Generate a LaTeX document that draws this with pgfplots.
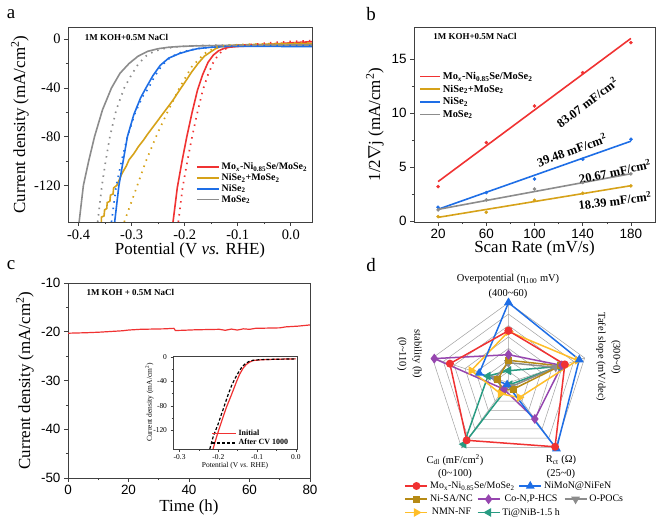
\documentclass[border=0pt]{standalone}
\usepackage{fontspec}
\setmainfont{Liberation Serif}
\newfontfamily\arial{Liberation Sans}
\usepackage{pgfplots}
\pgfplotsset{compat=1.18}
\usepgfplotslibrary{polar}

\definecolor{cred}{RGB}{240,50,50}
\definecolor{cblue}{RGB}{30,110,230}
\definecolor{cgold}{RGB}{214,162,25}
\definecolor{cgrey}{RGB}{140,140,140}
\definecolor{cyel}{RGB}{255,190,40}
\definecolor{cpur}{RGB}{150,70,175}
\definecolor{cteal}{RGB}{40,155,130}
\definecolor{cgrid}{RGB}{160,160,160}

\newcommand{\fs}[1]{\fontsize{#1}{#1}\selectfont}

\pgfplotsset{
  panel/.style={scale only axis, axis line style={black!75, line width=0.7bp},
    tick style={black!75, line width=0.6bp}, tick align=outside, tick pos=left,
    major tick length=4bp, minor tick length=2.2bp,
    minor x tick num=1, minor y tick num=1,
    /pgf/number format/assume math mode=true, legend cell align=left,
    label style={font=\fs{17}},
    legend image code/.code={\draw[##1] (0bp,0bp) -- (22bp,0bp);}},
  dots/.style={line width=1.7bp, dash pattern=on 1.5bp off 5bp},
  rline/.style={line width=1.6bp},
  radleg/.style={legend image code/.code={\draw[mark repeat=2,mark phase=2,##1]
      plot coordinates {(0bp,0bp) (11bp,0bp) (22bp,0bp)};}},
  shortleg/.style={legend image code/.code={\draw[##1] (0bp,0bp) -- (20bp,0bp);}},
  insetleg/.style={legend image code/.code={\draw[##1] (0bp,0bp) -- (24bp,0bp);}},
}

\begin{document}
\begin{tikzpicture}
\useasboundingbox (0,0) rectangle (661bp,524bp);

% ---------------- a
\begin{axis}[panel, at={(68bp,302bp)}, anchor=south west, width=244bp, height=195bp,
  xmin=-0.42, xmax=0.04, ymin=-150, ymax=10,
  xtick={-0.4,-0.3,-0.2,-0.1,0}, ytick={0,-40,-80,-120},
  xticklabel style={/pgf/number format/fixed, /pgf/number format/fixed zerofill, /pgf/number format/precision=1},
  tick label style={font=\fs{14.5}},
  xlabel={Potential (V \textit{vs.} RHE)}, ylabel={Current density (mA/cm\textsuperscript{2})},
  xlabel style={at={(axis description cs:0.5,-0.145)}, anchor=center},
  ylabel style={at={(axis description cs:-0.197,0.5)}, anchor=center},
  legend style={at={(axis description cs:0.52,0.32)}, anchor=north west, draw=none, fill=none,
    font=\bfseries\fs{10}, row sep=-1.5bp, inner sep=1bp}]
\addplot[cred, rline] coordinates {(-0.222,-150) (-0.214,-122) (-0.205,-100) (-0.196,-80) (-0.186,-60) (-0.176,-42) (-0.166,-29) (-0.156,-19) (-0.146,-13) (-0.136,-9.5) (-0.126,-7.6) (-0.116,-6.6) (-0.10,-6.0) (-0.08,-5.6) (-0.06,-5.0) (-0.04,-4.3) (-0.02,-3.6) (0.0,-3.0) (0.02,-2.5) (0.045,-2.0)};
\addlegendentry{Mo\textsubscript{\textit{x}}-Ni\textsubscript{0.85}Se/MoSe\textsubscript{2}}
\addplot[cgold, rline] coordinates {(-0.357,-150) (-0.357,-146) (-0.352,-145) (-0.351,-140) (-0.347,-139) (-0.346,-134) (-0.341,-133) (-0.340,-128) (-0.335,-127) (-0.334,-122) (-0.328,-120) (-0.322,-114) (-0.318,-110) (-0.310,-104) (-0.305,-99) (-0.296,-94) (-0.287,-88) (-0.278,-83) (-0.270,-78) (-0.258,-71) (-0.246,-64) (-0.234,-57) (-0.222,-50) (-0.210,-42) (-0.199,-35) (-0.187,-27) (-0.175,-20) (-0.163,-14) (-0.151,-10.4) (-0.142,-7.8) (-0.133,-6.3) (-0.12,-5.3) (-0.10,-4.8) (-0.07,-4.4) (-0.03,-4.0) (0.01,-3.8) (0.045,-3.6)};
\addlegendentry{NiSe\textsubscript{2}+MoSe\textsubscript{2}}
\addplot[cblue, rline] coordinates {(-0.332,-150) (-0.324,-120) (-0.316,-100) (-0.308,-80) (-0.296,-62) (-0.283,-48) (-0.273,-40) (-0.260,-30) (-0.246,-21.4) (-0.230,-15.5) (-0.210,-11.8) (-0.190,-9.2) (-0.175,-7.7) (-0.150,-6.6) (-0.127,-6.0) (-0.10,-5.8) (-0.05,-5.9) (0.0,-6.0) (0.045,-6.1)};
\addlegendentry{NiSe\textsubscript{2}}
\addplot[cgrey, rline] coordinates {(-0.399,-150) (-0.391,-120) (-0.381,-100) (-0.370,-80) (-0.355,-58) (-0.338,-40) (-0.322,-28) (-0.305,-20) (-0.288,-14) (-0.270,-10) (-0.25,-7.8) (-0.23,-6.6) (-0.21,-6.0) (-0.18,-5.5) (-0.14,-5.2) (-0.10,-5.0) (-0.05,-4.9) (0.0,-4.8) (0.045,-4.8)};
\addlegendentry{MoSe\textsubscript{2}}
\addplot[cred, dots, forget plot] coordinates {(-0.212,-150) (-0.204,-122) (-0.195,-100) (-0.186,-80) (-0.176,-60) (-0.166,-42) (-0.156,-29) (-0.146,-19) (-0.136,-12.5) (-0.126,-8.5) (-0.116,-6.5) (-0.10,-5.3) (-0.08,-4.5) (-0.06,-3.8) (-0.04,-3.0) (-0.02,-2.4) (0.0,-1.9) (0.02,-1.5) (0.045,-1.0)};
\addplot[cgold, dots, forget plot] coordinates {(-0.314,-150) (-0.293,-124.5) (-0.273,-100) (-0.252,-78) (-0.231,-58.5) (-0.210,-40) (-0.187,-22.8) (-0.163,-11.8) (-0.139,-6.3) (-0.12,-5.0) (-0.09,-4.4) (-0.05,-3.8) (0.0,-3.2) (0.045,-2.8)};
\addplot[cblue, dots, forget plot] coordinates {(-0.338,-150) (-0.329,-120) (-0.319,-100) (-0.308,-80) (-0.293,-60) (-0.278,-46) (-0.268,-40) (-0.256,-30) (-0.242,-21) (-0.226,-14.5) (-0.205,-10.5) (-0.18,-8) (-0.15,-6.6) (-0.12,-5.8) (-0.08,-5.5) (-0.03,-5.4) (0.045,-5.4)};
\addplot[cgrey, dots, forget plot] coordinates {(-0.364,-150) (-0.356,-120) (-0.349,-100) (-0.341,-80) (-0.329,-58) (-0.314,-40) (-0.300,-29) (-0.287,-20) (-0.272,-13.5) (-0.258,-10) (-0.24,-7.8) (-0.21,-6.0) (-0.18,-5.3) (-0.14,-5.0) (-0.10,-4.8) (-0.05,-4.7) (0.045,-4.6)};
\node[anchor=west, font=\bfseries\fs{9}] at (axis description cs:0.055,0.945) {1M KOH+0.5M NaCl};
\end{axis}

% ---------------- b
\begin{axis}[panel, shortleg, at={(414bp,302bp)}, anchor=south west, width=241bp, height=195bp,
  xmin=0, xmax=200, ymin=-0.1, ymax=18,
  xtick={20,60,100,140,180}, ytick={0,5,10,15},
  tick label style={font=\arial\fs{13.5}},
  xlabel={Scan Rate (mV/s)}, ylabel={1/2$\nabla$j (mA/cm\textsuperscript{2})},
  xlabel style={at={(axis description cs:0.5,-0.135)}, anchor=center},
  ylabel style={at={(axis description cs:-0.162,0.5)}, anchor=center},
  legend style={at={(axis description cs:0.017,0.785)}, anchor=north west, draw=none, fill=none,
    font=\bfseries\fs{10.5}, row sep=0bp, inner sep=1bp}]
\addplot[cred, line width=1.6bp] coordinates {(20,3.65) (180,16.94)};
\addlegendentry{Mo\textsubscript{\textit{x}}-Ni\textsubscript{0.85}Se/MoSe\textsubscript{2}}
\addplot[cgold, line width=1.6bp] coordinates {(20,0.33) (180,3.27)};
\addlegendentry{NiSe\textsubscript{2}+MoSe\textsubscript{2}}
\addplot[cblue, line width=1.6bp] coordinates {(20,1.08) (180,7.40)};
\addlegendentry{NiSe\textsubscript{2}}
\addplot[cgrey, line width=1.6bp] coordinates {(20,1.07) (180,4.38)};
\addlegendentry{MoSe\textsubscript{2}}
\addplot[cred, only marks, mark=*, mark size=1.6bp, forget plot] coordinates {(20,3.19) (60,7.27) (100,10.67) (140,13.76) (180,16.55)};
\addplot[cblue, only marks, mark=*, mark size=1.6bp, forget plot] coordinates {(20,1.27) (60,2.63) (100,3.90) (140,5.72) (180,7.58)};
\addplot[cgrey, only marks, mark=*, mark size=1.6bp, forget plot] coordinates {(20,1.02) (60,1.95) (100,2.97) (140,3.56) (180,4.36)};
\addplot[cgold, only marks, mark=*, mark size=1.6bp, forget plot] coordinates {(20,0.40) (60,0.80) (100,1.92) (140,2.57) (180,3.25)};
\node[font=\bfseries\fs{9}, anchor=west] at (axis description cs:0.066,0.949) {1M KOH+0.5M NaCl};
\node[font=\bfseries\fs{12.5}, rotate=37, inner sep=0bp] at (axis cs:143.6,11.0) {83.07 mF/cm\textsuperscript{2}};
\node[font=\bfseries\fs{12.5}, rotate=20, inner sep=0bp] at (axis cs:131,6.6) {39.48 mF/cm\textsuperscript{2}};
\node[font=\bfseries\fs{12.5}, rotate=12, inner sep=0bp] at (axis cs:166.8,4.6) {20.67 mF/cm\textsuperscript{2}};
\node[font=\bfseries\fs{12.5}, rotate=7, inner sep=0bp] at (axis cs:166.8,1.9) {18.39 mF/cm\textsuperscript{2}};
\end{axis}

% ---------------- c
\begin{axis}[panel, at={(68bp,46bp)}, anchor=south west, width=242bp, height=195bp,
  xmin=0, xmax=80, ymin=-50, ymax=-10,
  xtick={0,20,40,60,80}, ytick={-50,-40,-30,-20,-10},
  tick label style={font=\arial\fs{13.5}},
  xlabel={Time (h)}, ylabel={Current density (mA/cm\textsuperscript{2})},
  xlabel style={at={(axis description cs:0.5,-0.15)}, anchor=center},
  ylabel style={at={(axis description cs:-0.178,0.5)}, anchor=center}]
\addplot[cred, line width=1.2bp] coordinates {(0,-20.3) (3,-20.25) (6,-20.2) (10,-20.1) (14,-19.95) (18,-19.8) (20,-19.65) (24,-19.5) (28,-19.45) (32,-19.4) (35,-19.3) (35.5,-19.75) (38,-19.7) (42,-19.6) (46,-19.55) (50,-19.5) (52,-19.7) (54,-19.45) (56,-19.65) (58,-19.4) (60,-19.5) (62,-19.3) (66,-19.25) (70,-19.2) (72,-19.0) (76,-18.85) (80,-18.6)};
\node[font=\bfseries\fs{9}, anchor=west] at (axis description cs:0.062,0.949) {1M KOH + 0.5M NaCl};
\end{axis}

% inset
\begin{axis}[panel, insetleg, at={(173bp,75bp)}, anchor=south west, width=124bp, height=93bp,
  xmin=-0.317, xmax=0.003, ymin=-151, ymax=2,
  xtick={-0.3,-0.2,-0.1,0}, ytick={0,-40,-80,-120},
  xticklabel style={/pgf/number format/fixed, /pgf/number format/fixed zerofill, /pgf/number format/precision=1},
  tick label style={font=\fs{7.5}}, label style={font=\fs{7.5}},
  major tick length=2.5bp, minor tick length=1.5bp,
  axis background/.style={fill=white},
  xlabel={Potential (V \textit{vs.} RHE)}, ylabel={Current density (mA/cm\textsuperscript{2})},
  xlabel style={at={(axis description cs:0.5,-0.175)}, anchor=center},
  ylabel style={at={(axis description cs:-0.19,0.5)}, anchor=center},
  legend style={at={(axis description cs:0.30,0.24)}, anchor=north west, draw=none, fill=none,
    font=\bfseries\fs{8}, row sep=-1.5bp, inner sep=1bp}]
\addplot[cred, line width=1.2bp] coordinates {(-0.2136,-151) (-0.205,-132) (-0.196,-114) (-0.187,-97) (-0.179,-82) (-0.170,-68) (-0.162,-55) (-0.153,-40) (-0.145,-28) (-0.136,-18) (-0.128,-12) (-0.119,-8) (-0.110,-5.4) (-0.09,-4.3) (-0.075,-3.8) (-0.04,-3.2) (0.0,-2.7)};
\addlegendentry{Initial}
\addplot[black, line width=1.2bp, dash pattern=on 3bp off 2bp] coordinates {(-0.222,-151) (-0.213,-130) (-0.200,-109) (-0.191,-92) (-0.183,-77) (-0.175,-62) (-0.166,-47) (-0.157,-35) (-0.149,-26) (-0.140,-17) (-0.131,-11) (-0.121,-7) (-0.110,-4.9) (-0.09,-4.0) (-0.06,-3.5) (0.0,-2.7)};
\addlegendentry{After CV 1000}
\end{axis}

% ---------------- d (radar)
\begin{polaraxis}[at={(508.5bp,141.3bp)}, anchor=center, scale only axis, width=160bp, height=160bp,
  ymin=0, ymax=1, hide axis, clip=false]
\addplot[cgrid, line width=0.5bp] coordinates {(90,0.1429) (18,0.1429) (306,0.1429) (234,0.1429) (162,0.1429) (90,0.1429)};
\addplot[cgrid, line width=0.5bp] coordinates {(90,0.2857) (18,0.2857) (306,0.2857) (234,0.2857) (162,0.2857) (90,0.2857)};
\addplot[cgrid, line width=0.5bp] coordinates {(90,0.4286) (18,0.4286) (306,0.4286) (234,0.4286) (162,0.4286) (90,0.4286)};
\addplot[cgrid, line width=0.5bp] coordinates {(90,0.5714) (18,0.5714) (306,0.5714) (234,0.5714) (162,0.5714) (90,0.5714)};
\addplot[cgrid, line width=0.5bp] coordinates {(90,0.7143) (18,0.7143) (306,0.7143) (234,0.7143) (162,0.7143) (90,0.7143)};
\addplot[cgrid, line width=0.5bp] coordinates {(90,0.8571) (18,0.8571) (306,0.8571) (234,0.8571) (162,0.8571) (90,0.8571)};
\addplot[cgrid, line width=0.5bp] coordinates {(90,1) (18,1) (306,1) (234,1) (162,1) (90,1)};
\addplot[cgrid, line width=0.5bp] coordinates {(90,1) (0,0) (18,1) (0,0) (306,1) (0,0) (234,1) (0,0) (162,1)};
% series: overpotential, Tafel, Rct, Cdl, stability
\addplot[cteal, line width=1.5bp, mark=triangle*, mark size=3.6bp, mark options={rotate=90}] coordinates {(90,0.15) (18,0.65) (306,0.03) (234,0.95) (162,0.27) (90,0.15)};
\addplot[cgrey, line width=1.5bp, mark=triangle*, mark size=3.6bp, mark options={rotate=180}] coordinates {(90,0.25) (18,0.62) (306,0.06) (234,0.10) (162,0.18) (90,0.25)};
\addplot[cgold!85!black, line width=1.5bp, mark=square*, mark size=2.8bp] coordinates {(90,0.28) (18,0.68) (306,0.10) (234,0.12) (162,0.14) (90,0.28)};
\addplot[cpur, line width=1.5bp, mark=diamond*, mark size=3.8bp] coordinates {(90,0.35) (18,0.70) (306,0.56) (234,0.10) (162,0.975) (90,0.35)};
\addplot[cyel, line width=1.5bp, mark=triangle*, mark size=3.6bp, mark options={rotate=-90}] coordinates {(90,0.64) (18,0.905) (306,0.23) (234,0.17) (162,0.49) (90,0.64)};
\addplot[cblue, line width=1.5bp, mark=triangle*, mark size=3.6bp] coordinates {(90,1.0) (18,0.93) (306,1.02) (234,0.03) (162,0.385) (90,1.0)};
\addplot[cred, line width=1.5bp, mark=*, mark size=3.2bp] coordinates {(90,0.65) (18,0.74) (306,0.99) (234,0.89) (162,0.77) (90,0.65)};
\end{polaraxis}

% radar legend row 1
\begin{axis}[hide axis, scale only axis, width=1bp, height=1bp, at={(405bp,38bp)}, anchor=center,
  xmin=0, xmax=1, ymin=0, ymax=1, radleg, legend columns=-1,
  legend style={at={(0,0.5)}, anchor=west, draw=none, fill=none, font=\fs{10}, inner sep=0bp,
    /tikz/every even column/.append style={column sep=2bp}}]
\addlegendimage{cred, line width=1.5bp, mark=*, mark size=3.2bp}
\addlegendentry{Mo\textsubscript{x}-Ni\textsubscript{0.85}Se/MoSe\textsubscript{2}}
\addlegendimage{cblue, line width=1.5bp, mark=triangle*, mark size=3.6bp}
\addlegendentry{NiMoN@NiFeN}
\end{axis}
% radar legend rows 2-3
\begin{axis}[hide axis, scale only axis, width=1bp, height=1bp, at={(405bp,31bp)}, anchor=center,
  xmin=0, xmax=1, ymin=0, ymax=1, radleg, legend columns=3,
  legend style={at={(0,0.5)}, anchor=north west, draw=none, fill=none, font=\fs{10}, inner sep=0bp,
    row sep=1bp, /tikz/every even column/.append style={column sep=2bp}}]
\addlegendimage{cgold!85!black, line width=1.5bp, mark=square*, mark size=2.8bp}
\addlegendentry{Ni-SA/NC}
\addlegendimage{cpur, line width=1.5bp, mark=diamond*, mark size=3.8bp}
\addlegendentry{Co-N,P-HCS}
\addlegendimage{cgrey, line width=1.5bp, mark=triangle*, mark size=3.6bp, mark options={rotate=180}}
\addlegendentry{O-POCs}
\addlegendimage{cyel, line width=1.5bp, mark=triangle*, mark size=3.6bp, mark options={rotate=-90}}
\addlegendentry{NMN-NF}
\addlegendimage{cteal, line width=1.5bp, mark=triangle*, mark size=3.6bp, mark options={rotate=90}}
\addlegendentry{Ti@NiB-1.5 h}
\end{axis}

% radar axis labels
\begin{scope}[font=\fs{10.5}]
\node at (508bp,245bp) {Overpotential (η\textsubscript{100} mV)};
\node at (508bp,230bp) {(400\textasciitilde60)};
\node[rotate=-90] at (601bp,167bp) {Tafel slope (mV/dec)};
\node[rotate=-90] at (616bp,167bp) {(300\textasciitilde0)};
\node[rotate=-90] at (417bp,170bp) {stability (h)};
\node[rotate=-90] at (402bp,170bp) {(0\textasciitilde110)};
\node at (455bp,64bp) {C\textsubscript{dl} (mF/cm\textsuperscript{2})};
\node at (455bp,50bp) {(0\textasciitilde100)};
\node at (561bp,64bp) {R\textsubscript{ct} (Ω)};
\node at (561bp,50bp) {(25\textasciitilde0)};
\end{scope}

% panel letters
\begin{scope}[font=\fs{19}]
\node at (11bp,510bp) {a};
\node at (371bp,510bp) {b};
\node at (11bp,259bp) {c};
\node at (371bp,259bp) {d};
\end{scope}
\end{tikzpicture}
\end{document}
